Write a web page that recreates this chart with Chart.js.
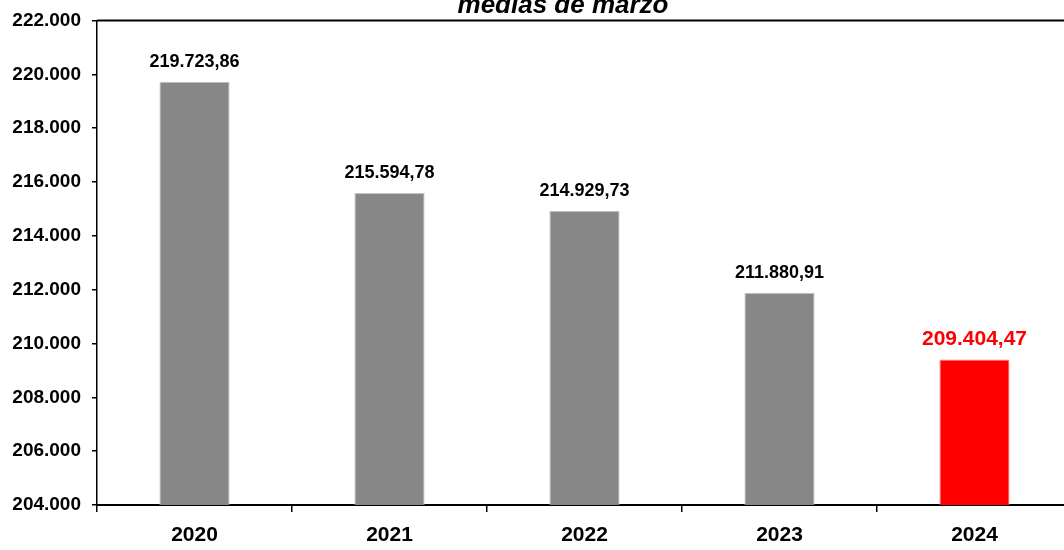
<!DOCTYPE html>
<html><head><meta charset="utf-8">
<script src="https://cdn.jsdelivr.net/npm/chart.js@4"></script>
<style>html,body{margin:0;padding:0;overflow:hidden;background:#fff}canvas{display:block}</style>
</head><body>
<canvas id="c" width="1080" height="550"></canvas>
<script>
const categories = ['2020', '2021', '2022', '2023', '2024'];
const values = [219723.86, 215594.78, 214929.73, 211880.91, 209404.47];
const barColors = ['#878787', '#878787', '#878787', '#878787', '#ff0000'];
const barEdges = ['#c4c4c4', '#c4c4c4', '#c4c4c4', '#c4c4c4', '#ff9a9a'];
const labelColors = ['#000000', '#000000', '#000000', '#000000', '#ff0000'];
const titleText = 'medias de marzo';
const yMin = 204000, yMax = 222000, yStep = 2000;

function fmtThousands(n) {
  return String(Math.round(n)).replace(/\B(?=(\d{3})+(?!\d))/g, '.');
}
function fmtValue(v) {
  const [i, d] = v.toFixed(2).split('.');
  return fmtThousands(Number(i)) + ',' + d;
}
const FONT = '"Liberation Sans", Arial, sans-serif';

const extras = {
  id: 'extras',
  afterDatasetsDraw(chart) {
    const ctx = chart.ctx, a = chart.chartArea;
    ctx.save();
    // top frame line
    ctx.strokeStyle = '#000'; ctx.lineWidth = 2;
    ctx.beginPath(); ctx.moveTo(a.left, a.top); ctx.lineTo(a.right, a.top); ctx.stroke();
    // value labels
    const meta = chart.getDatasetMeta(0);
    ctx.textAlign = 'center'; ctx.textBaseline = 'alphabetic';
    meta.data.forEach((bar, i) => {
      const last = i === values.length - 1;
      ctx.font = 'bold ' + (last ? 21 : 18) + 'px ' + FONT;
      ctx.fillStyle = labelColors[i];
      ctx.fillText(fmtValue(values[i]), bar.x, bar.y - 15);
    });
    // title (partially clipped at top)
    ctx.font = 'italic bold 26px ' + FONT;
    ctx.fillStyle = '#000';
    ctx.fillText(titleText, 563, 13);
    ctx.restore();
  }
};

new Chart(document.getElementById('c'), {
  type: 'bar',
  data: {
    labels: categories,
    datasets: [{
      data: values,
      backgroundColor: barColors,
      borderColor: barEdges,
      borderWidth: 1,
      barPercentage: 0.36,
      categoryPercentage: 1
    }]
  },
  options: {
    responsive: false,
    devicePixelRatio: 1,
    animation: false,
    layout: { padding: { top: 20, right: 8, left: 0, bottom: 0 } },
    plugins: { legend: { display: false }, tooltip: { enabled: false }, title: { display: false } },
    scales: {
      x: {
        afterFit(s) { s.height = 45; },
        grid: { offset: true, drawOnChartArea: false, tickLength: 7, color: '#000', lineWidth: 1.5 },
        border: { color: '#000', width: 2 },
        ticks: { color: '#000', padding: 11, font: { family: FONT, size: 21, weight: 'bold' } }
      },
      y: {
        min: yMin, max: yMax,
        afterFit(s) { s.width = 97; },
        grid: { drawOnChartArea: false, tickLength: 5, color: '#000', lineWidth: 1.5 },
        border: { color: '#000', width: 1.5 },
        ticks: {
          stepSize: yStep, color: '#000', padding: 11,
          font: { family: FONT, size: 19, weight: 'bold', lineHeight: 1 },
          callback: v => fmtThousands(v)
        }
      }
    }
  },
  plugins: [extras]
});
</script>
</body></html>
